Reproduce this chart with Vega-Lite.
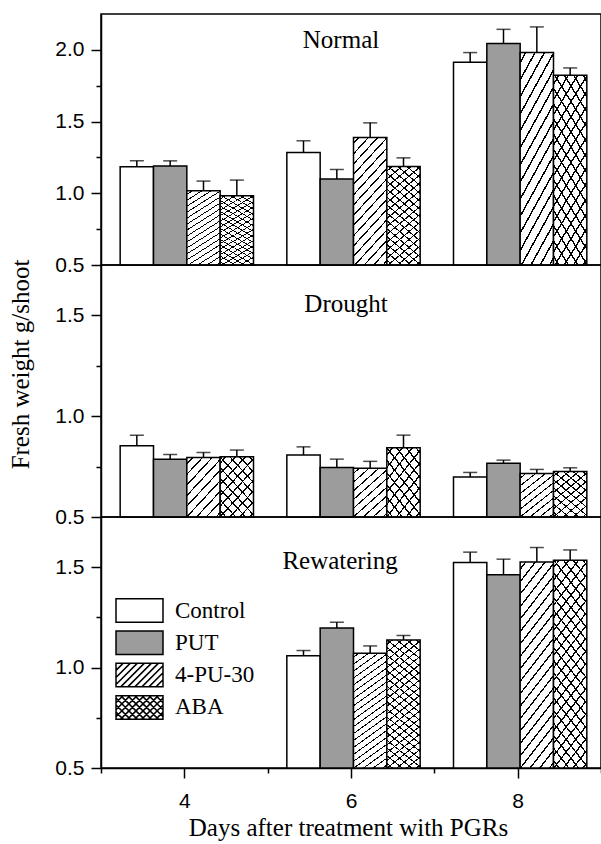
{
"$schema": "https://vega.github.io/schema/vega-lite/v6.json",
"padding": {"left": 7, "top": 13, "right": 0, "bottom": 0},
"background": "white",
"bounds": "flush",
"spacing": 0,
"config": {
  "view": {"stroke": "black", "strokeWidth": 1.5},
  "axis": {"grid": false, "domainColor": "black", "domainWidth": 1.5, "tickColor": "black", "tickWidth": 1.5, "labelColor": "black", "labelFont": "Liberation Sans", "labelFontSize": 21, "labelOverlap": false, "titleColor": "black", "titleFont": "Liberation Serif", "titleFontSize": 25, "titleFontWeight": "normal"},
  "title": {"font": "Liberation Serif", "fontSize": 25, "fontWeight": "normal", "color": "black", "anchor": "middle", "frame": "group", "baseline": "alphabetic"}
},
"datasets": {
  "normal": [
    {"day": 4, "trt": "Control", "value": 1.185, "hi": 1.226},
    {"day": 4, "trt": "PUT", "value": 1.19, "hi": 1.226},
    {"day": 4, "trt": "4-PU-30", "value": 1.017, "hi": 1.085},
    {"day": 4, "trt": "ABA", "value": 0.983, "hi": 1.092},
    {"day": 6, "trt": "Control", "value": 1.285, "hi": 1.366},
    {"day": 6, "trt": "PUT", "value": 1.099, "hi": 1.166},
    {"day": 6, "trt": "4-PU-30", "value": 1.389, "hi": 1.491},
    {"day": 6, "trt": "ABA", "value": 1.187, "hi": 1.247},
    {"day": 8, "trt": "Control", "value": 1.914, "hi": 1.981},
    {"day": 8, "trt": "PUT", "value": 2.044, "hi": 2.143},
    {"day": 8, "trt": "4-PU-30", "value": 1.981, "hi": 2.16},
    {"day": 8, "trt": "ABA", "value": 1.823, "hi": 1.874}
  ],
  "drought": [
    {"day": 4, "trt": "Control", "value": 0.853, "hi": 0.906},
    {"day": 4, "trt": "PUT", "value": 0.786, "hi": 0.81},
    {"day": 4, "trt": "4-PU-30", "value": 0.795, "hi": 0.82},
    {"day": 4, "trt": "ABA", "value": 0.799, "hi": 0.832},
    {"day": 6, "trt": "Control", "value": 0.808, "hi": 0.848},
    {"day": 6, "trt": "PUT", "value": 0.746, "hi": 0.787},
    {"day": 6, "trt": "4-PU-30", "value": 0.742, "hi": 0.776},
    {"day": 6, "trt": "ABA", "value": 0.843, "hi": 0.906},
    {"day": 8, "trt": "Control", "value": 0.699, "hi": 0.721},
    {"day": 8, "trt": "PUT", "value": 0.766, "hi": 0.782},
    {"day": 8, "trt": "4-PU-30", "value": 0.716, "hi": 0.736},
    {"day": 8, "trt": "ABA", "value": 0.726, "hi": 0.744}
  ],
  "rewater": [
    {"day": 6, "trt": "Control", "value": 1.059, "hi": 1.085},
    {"day": 6, "trt": "PUT", "value": 1.197, "hi": 1.226},
    {"day": 6, "trt": "4-PU-30", "value": 1.072, "hi": 1.108},
    {"day": 6, "trt": "ABA", "value": 1.138, "hi": 1.16},
    {"day": 8, "trt": "Control", "value": 1.523, "hi": 1.575},
    {"day": 8, "trt": "PUT", "value": 1.463, "hi": 1.54},
    {"day": 8, "trt": "4-PU-30", "value": 1.526, "hi": 1.598},
    {"day": 8, "trt": "ABA", "value": 1.535, "hi": 1.586}
  ]
},
"resolve": {
  "scale": {"x": "independent", "y": "independent", "xOffset": "independent", "fill": "independent", "shape": "independent"},
  "axis": {"x": "independent", "y": "independent"},
  "legend": {"fill": "independent", "shape": "independent"}
},
"vconcat": [
  {
    "width": 500, "height": 251,
    "title": {"text": "Normal", "offset": -39, "dx": -10},
    "data": {"name": "normal"},
    "encoding": {
      "x": {"field": "day", "type": "ordinal", "scale": {"domain": [4, 6, 8], "range": [2.5, 502.5], "paddingInner": 0.2, "paddingOuter": 0.1}, "axis": null},
      "xOffset": {"field": "trt", "type": "nominal", "scale": {"domain": ["Control", "PUT", "4-PU-30", "ABA"]}},
      "y": {"field": "value", "type": "quantitative", "scale": {"domain": [0.5, 2.25], "nice": false, "zero": false},
        "axis": {"values": [0.5, 0.75, 1, 1.25, 1.5, 1.75, 2], "labelExpr": "datum.value % 0.5 == 0 ? format(datum.value, '.1f') : ''", "tickSize": {"condition": {"test": "datum.value % 0.5 == 0", "value": 10}, "value": 5}, "labelPadding": 7, "title": null}}
    },
    "layer": [
      {"mark": {"type": "bar", "stroke": "black", "strokeWidth": 1.5},
       "encoding": {"y2": {"datum": 0.5}, "fill": {"field": "trt", "type": "nominal", "scale": {"domain": ["Control", "PUT", "4-PU-30", "ABA"], "range": ["white", "#9c9c9c", "white", "white"]}, "legend": null}}},
      {"transform": [{"filter": {"field": "trt", "oneOf": ["4-PU-30", "ABA"]}}],
       "mark": {"type": "bar", "strokeWidth": 0, "fill": {"gradient": "linear", "x1": 0, "y1": 0, "x2": 0.3396, "y2": 1.1887, "stops": [
{"offset":0.031,"color":"rgba(0,0,0,0)"},{"offset":0.031,"color":"#000"},{"offset":0.042,"color":"#000"},{"offset":0.042,"color":"rgba(0,0,0,0)"},
{"offset":0.094,"color":"rgba(0,0,0,0)"},{"offset":0.094,"color":"#000"},{"offset":0.105,"color":"#000"},{"offset":0.105,"color":"rgba(0,0,0,0)"},
{"offset":0.156,"color":"rgba(0,0,0,0)"},{"offset":0.156,"color":"#000"},{"offset":0.167,"color":"#000"},{"offset":0.167,"color":"rgba(0,0,0,0)"},
{"offset":0.219,"color":"rgba(0,0,0,0)"},{"offset":0.219,"color":"#000"},{"offset":0.230,"color":"#000"},{"offset":0.230,"color":"rgba(0,0,0,0)"},
{"offset":0.281,"color":"rgba(0,0,0,0)"},{"offset":0.281,"color":"#000"},{"offset":0.292,"color":"#000"},{"offset":0.292,"color":"rgba(0,0,0,0)"},
{"offset":0.344,"color":"rgba(0,0,0,0)"},{"offset":0.344,"color":"#000"},{"offset":0.355,"color":"#000"},{"offset":0.355,"color":"rgba(0,0,0,0)"},
{"offset":0.406,"color":"rgba(0,0,0,0)"},{"offset":0.406,"color":"#000"},{"offset":0.417,"color":"#000"},{"offset":0.417,"color":"rgba(0,0,0,0)"},
{"offset":0.469,"color":"rgba(0,0,0,0)"},{"offset":0.469,"color":"#000"},{"offset":0.480,"color":"#000"},{"offset":0.480,"color":"rgba(0,0,0,0)"},
{"offset":0.531,"color":"rgba(0,0,0,0)"},{"offset":0.531,"color":"#000"},{"offset":0.542,"color":"#000"},{"offset":0.542,"color":"rgba(0,0,0,0)"},
{"offset":0.594,"color":"rgba(0,0,0,0)"},{"offset":0.594,"color":"#000"},{"offset":0.605,"color":"#000"},{"offset":0.605,"color":"rgba(0,0,0,0)"},
{"offset":0.656,"color":"rgba(0,0,0,0)"},{"offset":0.656,"color":"#000"},{"offset":0.667,"color":"#000"},{"offset":0.667,"color":"rgba(0,0,0,0)"},
{"offset":0.719,"color":"rgba(0,0,0,0)"},{"offset":0.719,"color":"#000"},{"offset":0.730,"color":"#000"},{"offset":0.730,"color":"rgba(0,0,0,0)"},
{"offset":0.781,"color":"rgba(0,0,0,0)"},{"offset":0.781,"color":"#000"},{"offset":0.792,"color":"#000"},{"offset":0.792,"color":"rgba(0,0,0,0)"},
{"offset":0.844,"color":"rgba(0,0,0,0)"},{"offset":0.844,"color":"#000"},{"offset":0.855,"color":"#000"},{"offset":0.855,"color":"rgba(0,0,0,0)"},
{"offset":0.906,"color":"rgba(0,0,0,0)"},{"offset":0.906,"color":"#000"},{"offset":0.917,"color":"#000"},{"offset":0.917,"color":"rgba(0,0,0,0)"},
{"offset":0.969,"color":"rgba(0,0,0,0)"},{"offset":0.969,"color":"#000"},{"offset":0.980,"color":"#000"},{"offset":0.980,"color":"rgba(0,0,0,0)"}]}},
       "encoding": {"y2": {"datum": 0.5}}},
      {"transform": [{"filter": {"field": "trt", "equal": "ABA"}}],
       "mark": {"type": "bar", "strokeWidth": 0, "fill": {"gradient": "linear", "x1": 0, "y1": 1, "x2": 0.3396, "y2": -0.1887, "stops": [
{"offset":0.031,"color":"rgba(0,0,0,0)"},{"offset":0.031,"color":"#000"},{"offset":0.042,"color":"#000"},{"offset":0.042,"color":"rgba(0,0,0,0)"},
{"offset":0.094,"color":"rgba(0,0,0,0)"},{"offset":0.094,"color":"#000"},{"offset":0.105,"color":"#000"},{"offset":0.105,"color":"rgba(0,0,0,0)"},
{"offset":0.156,"color":"rgba(0,0,0,0)"},{"offset":0.156,"color":"#000"},{"offset":0.167,"color":"#000"},{"offset":0.167,"color":"rgba(0,0,0,0)"},
{"offset":0.219,"color":"rgba(0,0,0,0)"},{"offset":0.219,"color":"#000"},{"offset":0.230,"color":"#000"},{"offset":0.230,"color":"rgba(0,0,0,0)"},
{"offset":0.281,"color":"rgba(0,0,0,0)"},{"offset":0.281,"color":"#000"},{"offset":0.292,"color":"#000"},{"offset":0.292,"color":"rgba(0,0,0,0)"},
{"offset":0.344,"color":"rgba(0,0,0,0)"},{"offset":0.344,"color":"#000"},{"offset":0.355,"color":"#000"},{"offset":0.355,"color":"rgba(0,0,0,0)"},
{"offset":0.406,"color":"rgba(0,0,0,0)"},{"offset":0.406,"color":"#000"},{"offset":0.417,"color":"#000"},{"offset":0.417,"color":"rgba(0,0,0,0)"},
{"offset":0.469,"color":"rgba(0,0,0,0)"},{"offset":0.469,"color":"#000"},{"offset":0.480,"color":"#000"},{"offset":0.480,"color":"rgba(0,0,0,0)"},
{"offset":0.531,"color":"rgba(0,0,0,0)"},{"offset":0.531,"color":"#000"},{"offset":0.542,"color":"#000"},{"offset":0.542,"color":"rgba(0,0,0,0)"},
{"offset":0.594,"color":"rgba(0,0,0,0)"},{"offset":0.594,"color":"#000"},{"offset":0.605,"color":"#000"},{"offset":0.605,"color":"rgba(0,0,0,0)"},
{"offset":0.656,"color":"rgba(0,0,0,0)"},{"offset":0.656,"color":"#000"},{"offset":0.667,"color":"#000"},{"offset":0.667,"color":"rgba(0,0,0,0)"},
{"offset":0.719,"color":"rgba(0,0,0,0)"},{"offset":0.719,"color":"#000"},{"offset":0.730,"color":"#000"},{"offset":0.730,"color":"rgba(0,0,0,0)"},
{"offset":0.781,"color":"rgba(0,0,0,0)"},{"offset":0.781,"color":"#000"},{"offset":0.792,"color":"#000"},{"offset":0.792,"color":"rgba(0,0,0,0)"},
{"offset":0.844,"color":"rgba(0,0,0,0)"},{"offset":0.844,"color":"#000"},{"offset":0.855,"color":"#000"},{"offset":0.855,"color":"rgba(0,0,0,0)"},
{"offset":0.906,"color":"rgba(0,0,0,0)"},{"offset":0.906,"color":"#000"},{"offset":0.917,"color":"#000"},{"offset":0.917,"color":"rgba(0,0,0,0)"},
{"offset":0.969,"color":"rgba(0,0,0,0)"},{"offset":0.969,"color":"#000"},{"offset":0.980,"color":"#000"},{"offset":0.980,"color":"rgba(0,0,0,0)"}]}},
       "encoding": {"y2": {"datum": 0.5}}},
      {"mark": {"type": "rule", "color": "black", "strokeWidth": 1.5}, "encoding": {"y2": {"field": "hi"}}},
      {"mark": {"type": "tick", "color": "black", "thickness": 1.5, "size": 14, "orient": "horizontal"},
       "encoding": {"y": {"field": "hi", "type": "quantitative", "scale": {"domain": [0.5, 2.25], "nice": false, "zero": false},
         "axis": {"values": [0.5, 0.75, 1, 1.25, 1.5, 1.75, 2], "labelExpr": "datum.value % 0.5 == 0 ? format(datum.value, '.1f') : ''", "tickSize": {"condition": {"test": "datum.value % 0.5 == 0", "value": 10}, "value": 5}, "labelPadding": 7, "title": null}}}}
    ]
  },
  {
    "width": 500, "height": 252,
    "title": {"text": "Drought", "offset": -58, "dx": -5},
    "data": {"name": "drought"},
    "encoding": {
      "x": {"field": "day", "type": "ordinal", "scale": {"domain": [4, 6, 8], "range": [2.5, 502.5], "paddingInner": 0.2, "paddingOuter": 0.1}, "axis": null},
      "xOffset": {"field": "trt", "type": "nominal", "scale": {"domain": ["Control", "PUT", "4-PU-30", "ABA"]}},
      "y": {"field": "value", "type": "quantitative", "scale": {"domain": [0.5, 1.75], "nice": false, "zero": false},
        "axis": {"values": [0.5, 0.75, 1, 1.25, 1.5], "labelExpr": "datum.value % 0.5 == 0 ? format(datum.value, '.1f') : ''", "tickSize": {"condition": {"test": "datum.value % 0.5 == 0", "value": 10}, "value": 5}, "labelPadding": 7,
          "title": "Fresh weight g/shoot", "titleX": -73, "titleY": 99, "titleAngle": 270, "titleAlign": "center", "titleBaseline": "alphabetic"}}
    },
    "layer": [
      {"mark": {"type": "bar", "stroke": "black", "strokeWidth": 1.5},
       "encoding": {"y2": {"datum": 0.5}, "fill": {"field": "trt", "type": "nominal", "scale": {"domain": ["Control", "PUT", "4-PU-30", "ABA"], "range": ["white", "#9c9c9c", "white", "white"]}, "legend": null}}},
      {"transform": [{"filter": {"field": "trt", "oneOf": ["4-PU-30", "ABA"]}}],
       "mark": {"type": "bar", "strokeWidth": 0, "fill": {"gradient": "linear", "x1": 0, "y1": 0, "x2": 0.7119, "y2": 1.1746, "stops": [
{"offset":0.056,"color":"rgba(0,0,0,0)"},{"offset":0.056,"color":"#000"},{"offset":0.075,"color":"#000"},{"offset":0.075,"color":"rgba(0,0,0,0)"},
{"offset":0.167,"color":"rgba(0,0,0,0)"},{"offset":0.167,"color":"#000"},{"offset":0.186,"color":"#000"},{"offset":0.186,"color":"rgba(0,0,0,0)"},
{"offset":0.278,"color":"rgba(0,0,0,0)"},{"offset":0.278,"color":"#000"},{"offset":0.297,"color":"#000"},{"offset":0.297,"color":"rgba(0,0,0,0)"},
{"offset":0.389,"color":"rgba(0,0,0,0)"},{"offset":0.389,"color":"#000"},{"offset":0.408,"color":"#000"},{"offset":0.408,"color":"rgba(0,0,0,0)"},
{"offset":0.500,"color":"rgba(0,0,0,0)"},{"offset":0.500,"color":"#000"},{"offset":0.519,"color":"#000"},{"offset":0.519,"color":"rgba(0,0,0,0)"},
{"offset":0.611,"color":"rgba(0,0,0,0)"},{"offset":0.611,"color":"#000"},{"offset":0.630,"color":"#000"},{"offset":0.630,"color":"rgba(0,0,0,0)"},
{"offset":0.722,"color":"rgba(0,0,0,0)"},{"offset":0.722,"color":"#000"},{"offset":0.741,"color":"#000"},{"offset":0.741,"color":"rgba(0,0,0,0)"},
{"offset":0.833,"color":"rgba(0,0,0,0)"},{"offset":0.833,"color":"#000"},{"offset":0.852,"color":"#000"},{"offset":0.852,"color":"rgba(0,0,0,0)"},
{"offset":0.944,"color":"rgba(0,0,0,0)"},{"offset":0.944,"color":"#000"},{"offset":0.963,"color":"#000"},{"offset":0.963,"color":"rgba(0,0,0,0)"}]}},
       "encoding": {"y2": {"datum": 0.5}}},
      {"transform": [{"filter": {"field": "trt", "equal": "ABA"}}],
       "mark": {"type": "bar", "strokeWidth": 0, "fill": {"gradient": "linear", "x1": 0, "y1": 1, "x2": 0.7119, "y2": -0.1746, "stops": [
{"offset":0.056,"color":"rgba(0,0,0,0)"},{"offset":0.056,"color":"#000"},{"offset":0.075,"color":"#000"},{"offset":0.075,"color":"rgba(0,0,0,0)"},
{"offset":0.167,"color":"rgba(0,0,0,0)"},{"offset":0.167,"color":"#000"},{"offset":0.186,"color":"#000"},{"offset":0.186,"color":"rgba(0,0,0,0)"},
{"offset":0.278,"color":"rgba(0,0,0,0)"},{"offset":0.278,"color":"#000"},{"offset":0.297,"color":"#000"},{"offset":0.297,"color":"rgba(0,0,0,0)"},
{"offset":0.389,"color":"rgba(0,0,0,0)"},{"offset":0.389,"color":"#000"},{"offset":0.408,"color":"#000"},{"offset":0.408,"color":"rgba(0,0,0,0)"},
{"offset":0.500,"color":"rgba(0,0,0,0)"},{"offset":0.500,"color":"#000"},{"offset":0.519,"color":"#000"},{"offset":0.519,"color":"rgba(0,0,0,0)"},
{"offset":0.611,"color":"rgba(0,0,0,0)"},{"offset":0.611,"color":"#000"},{"offset":0.630,"color":"#000"},{"offset":0.630,"color":"rgba(0,0,0,0)"},
{"offset":0.722,"color":"rgba(0,0,0,0)"},{"offset":0.722,"color":"#000"},{"offset":0.741,"color":"#000"},{"offset":0.741,"color":"rgba(0,0,0,0)"},
{"offset":0.833,"color":"rgba(0,0,0,0)"},{"offset":0.833,"color":"#000"},{"offset":0.852,"color":"#000"},{"offset":0.852,"color":"rgba(0,0,0,0)"},
{"offset":0.944,"color":"rgba(0,0,0,0)"},{"offset":0.944,"color":"#000"},{"offset":0.963,"color":"#000"},{"offset":0.963,"color":"rgba(0,0,0,0)"}]}},
       "encoding": {"y2": {"datum": 0.5}}},
      {"mark": {"type": "rule", "color": "black", "strokeWidth": 1.5}, "encoding": {"y2": {"field": "hi"}}},
      {"mark": {"type": "tick", "color": "black", "thickness": 1.5, "size": 14, "orient": "horizontal"},
       "encoding": {"y": {"field": "hi", "type": "quantitative", "scale": {"domain": [0.5, 1.75], "nice": false, "zero": false},
         "axis": {"values": [0.5, 0.75, 1, 1.25, 1.5], "labelExpr": "datum.value % 0.5 == 0 ? format(datum.value, '.1f') : ''", "tickSize": {"condition": {"test": "datum.value % 0.5 == 0", "value": 10}, "value": 5}, "labelPadding": 7,
          "title": "Fresh weight g/shoot", "titleX": -73, "titleY": 99, "titleAngle": 270, "titleAlign": "center", "titleBaseline": "alphabetic"}}}}
    ]
  },
  {
    "width": 500, "height": 251,
    "title": {"text": "Rewatering", "offset": -57, "dx": -11},
    "data": {"name": "rewater"},
    "resolve": {"scale": {"x": "independent"}, "axis": {"x": "independent"}},
    "layer": [
      {
        "encoding": {
          "x": {"field": "day", "type": "ordinal", "scale": {"domain": [4, 6, 8], "range": [2.5, 502.5], "paddingInner": 0.2, "paddingOuter": 0.1}, "axis": null},
          "xOffset": {"field": "trt", "type": "nominal", "scale": {"domain": ["Control", "PUT", "4-PU-30", "ABA"]}},
          "y": {"field": "value", "type": "quantitative", "scale": {"domain": [0.5, 1.75], "nice": false, "zero": false},
            "axis": {"values": [0.5, 0.75, 1, 1.25, 1.5], "labelExpr": "datum.value % 0.5 == 0 ? format(datum.value, '.1f') : ''", "tickSize": {"condition": {"test": "datum.value % 0.5 == 0", "value": 10}, "value": 5}, "labelPadding": 7, "title": null}}
        },
        "layer": [
          {"mark": {"type": "bar", "stroke": "black", "strokeWidth": 1.5},
           "encoding": {"y2": {"datum": 0.5}, "fill": {"field": "trt", "type": "nominal", "scale": {"domain": ["Control", "PUT", "4-PU-30", "ABA"], "range": ["white", "#9c9c9c", "white", "white"]},
             "legend": {"orient": "none", "legendX": 26, "legendY": 81, "title": null, "padding": 0, "symbolSize": 552, "symbolStrokeColor": "black", "symbolStrokeWidth": 1.5, "symbolOpacity": 1,
               "labelFont": "Liberation Serif", "labelFontSize": 23, "labelColor": "black", "labelOffset": 23, "rowPadding": 1.3}}}},
          {"transform": [{"filter": {"field": "trt", "oneOf": ["4-PU-30", "ABA"]}}],
           "mark": {"type": "bar", "strokeWidth": 0, "fill": {"gradient": "linear", "x1": 0, "y1": 0, "x2": 0.2413, "y2": 1.158, "stops": [
{"offset":0.025,"color":"rgba(0,0,0,0)"},{"offset":0.025,"color":"#000"},{"offset":0.0335,"color":"#000"},{"offset":0.0335,"color":"rgba(0,0,0,0)"},
{"offset":0.075,"color":"rgba(0,0,0,0)"},{"offset":0.075,"color":"#000"},{"offset":0.0835,"color":"#000"},{"offset":0.0835,"color":"rgba(0,0,0,0)"},
{"offset":0.125,"color":"rgba(0,0,0,0)"},{"offset":0.125,"color":"#000"},{"offset":0.1335,"color":"#000"},{"offset":0.1335,"color":"rgba(0,0,0,0)"},
{"offset":0.175,"color":"rgba(0,0,0,0)"},{"offset":0.175,"color":"#000"},{"offset":0.1835,"color":"#000"},{"offset":0.1835,"color":"rgba(0,0,0,0)"},
{"offset":0.225,"color":"rgba(0,0,0,0)"},{"offset":0.225,"color":"#000"},{"offset":0.2335,"color":"#000"},{"offset":0.2335,"color":"rgba(0,0,0,0)"},
{"offset":0.275,"color":"rgba(0,0,0,0)"},{"offset":0.275,"color":"#000"},{"offset":0.2835,"color":"#000"},{"offset":0.2835,"color":"rgba(0,0,0,0)"},
{"offset":0.325,"color":"rgba(0,0,0,0)"},{"offset":0.325,"color":"#000"},{"offset":0.3335,"color":"#000"},{"offset":0.3335,"color":"rgba(0,0,0,0)"},
{"offset":0.375,"color":"rgba(0,0,0,0)"},{"offset":0.375,"color":"#000"},{"offset":0.3835,"color":"#000"},{"offset":0.3835,"color":"rgba(0,0,0,0)"},
{"offset":0.425,"color":"rgba(0,0,0,0)"},{"offset":0.425,"color":"#000"},{"offset":0.4335,"color":"#000"},{"offset":0.4335,"color":"rgba(0,0,0,0)"},
{"offset":0.475,"color":"rgba(0,0,0,0)"},{"offset":0.475,"color":"#000"},{"offset":0.4835,"color":"#000"},{"offset":0.4835,"color":"rgba(0,0,0,0)"},
{"offset":0.525,"color":"rgba(0,0,0,0)"},{"offset":0.525,"color":"#000"},{"offset":0.5335,"color":"#000"},{"offset":0.5335,"color":"rgba(0,0,0,0)"},
{"offset":0.575,"color":"rgba(0,0,0,0)"},{"offset":0.575,"color":"#000"},{"offset":0.5835,"color":"#000"},{"offset":0.5835,"color":"rgba(0,0,0,0)"},
{"offset":0.625,"color":"rgba(0,0,0,0)"},{"offset":0.625,"color":"#000"},{"offset":0.6335,"color":"#000"},{"offset":0.6335,"color":"rgba(0,0,0,0)"},
{"offset":0.675,"color":"rgba(0,0,0,0)"},{"offset":0.675,"color":"#000"},{"offset":0.6835,"color":"#000"},{"offset":0.6835,"color":"rgba(0,0,0,0)"},
{"offset":0.725,"color":"rgba(0,0,0,0)"},{"offset":0.725,"color":"#000"},{"offset":0.7335,"color":"#000"},{"offset":0.7335,"color":"rgba(0,0,0,0)"},
{"offset":0.775,"color":"rgba(0,0,0,0)"},{"offset":0.775,"color":"#000"},{"offset":0.7835,"color":"#000"},{"offset":0.7835,"color":"rgba(0,0,0,0)"},
{"offset":0.825,"color":"rgba(0,0,0,0)"},{"offset":0.825,"color":"#000"},{"offset":0.8335,"color":"#000"},{"offset":0.8335,"color":"rgba(0,0,0,0)"},
{"offset":0.875,"color":"rgba(0,0,0,0)"},{"offset":0.875,"color":"#000"},{"offset":0.8835,"color":"#000"},{"offset":0.8835,"color":"rgba(0,0,0,0)"},
{"offset":0.925,"color":"rgba(0,0,0,0)"},{"offset":0.925,"color":"#000"},{"offset":0.9335,"color":"#000"},{"offset":0.9335,"color":"rgba(0,0,0,0)"},
{"offset":0.975,"color":"rgba(0,0,0,0)"},{"offset":0.975,"color":"#000"},{"offset":0.9835,"color":"#000"},{"offset":0.9835,"color":"rgba(0,0,0,0)"}]}},
           "encoding": {"y2": {"datum": 0.5}}},
          {"transform": [{"filter": {"field": "trt", "equal": "ABA"}}],
           "mark": {"type": "bar", "strokeWidth": 0, "fill": {"gradient": "linear", "x1": 0, "y1": 1, "x2": 0.2413, "y2": -0.158, "stops": [
{"offset":0.025,"color":"rgba(0,0,0,0)"},{"offset":0.025,"color":"#000"},{"offset":0.0335,"color":"#000"},{"offset":0.0335,"color":"rgba(0,0,0,0)"},
{"offset":0.075,"color":"rgba(0,0,0,0)"},{"offset":0.075,"color":"#000"},{"offset":0.0835,"color":"#000"},{"offset":0.0835,"color":"rgba(0,0,0,0)"},
{"offset":0.125,"color":"rgba(0,0,0,0)"},{"offset":0.125,"color":"#000"},{"offset":0.1335,"color":"#000"},{"offset":0.1335,"color":"rgba(0,0,0,0)"},
{"offset":0.175,"color":"rgba(0,0,0,0)"},{"offset":0.175,"color":"#000"},{"offset":0.1835,"color":"#000"},{"offset":0.1835,"color":"rgba(0,0,0,0)"},
{"offset":0.225,"color":"rgba(0,0,0,0)"},{"offset":0.225,"color":"#000"},{"offset":0.2335,"color":"#000"},{"offset":0.2335,"color":"rgba(0,0,0,0)"},
{"offset":0.275,"color":"rgba(0,0,0,0)"},{"offset":0.275,"color":"#000"},{"offset":0.2835,"color":"#000"},{"offset":0.2835,"color":"rgba(0,0,0,0)"},
{"offset":0.325,"color":"rgba(0,0,0,0)"},{"offset":0.325,"color":"#000"},{"offset":0.3335,"color":"#000"},{"offset":0.3335,"color":"rgba(0,0,0,0)"},
{"offset":0.375,"color":"rgba(0,0,0,0)"},{"offset":0.375,"color":"#000"},{"offset":0.3835,"color":"#000"},{"offset":0.3835,"color":"rgba(0,0,0,0)"},
{"offset":0.425,"color":"rgba(0,0,0,0)"},{"offset":0.425,"color":"#000"},{"offset":0.4335,"color":"#000"},{"offset":0.4335,"color":"rgba(0,0,0,0)"},
{"offset":0.475,"color":"rgba(0,0,0,0)"},{"offset":0.475,"color":"#000"},{"offset":0.4835,"color":"#000"},{"offset":0.4835,"color":"rgba(0,0,0,0)"},
{"offset":0.525,"color":"rgba(0,0,0,0)"},{"offset":0.525,"color":"#000"},{"offset":0.5335,"color":"#000"},{"offset":0.5335,"color":"rgba(0,0,0,0)"},
{"offset":0.575,"color":"rgba(0,0,0,0)"},{"offset":0.575,"color":"#000"},{"offset":0.5835,"color":"#000"},{"offset":0.5835,"color":"rgba(0,0,0,0)"},
{"offset":0.625,"color":"rgba(0,0,0,0)"},{"offset":0.625,"color":"#000"},{"offset":0.6335,"color":"#000"},{"offset":0.6335,"color":"rgba(0,0,0,0)"},
{"offset":0.675,"color":"rgba(0,0,0,0)"},{"offset":0.675,"color":"#000"},{"offset":0.6835,"color":"#000"},{"offset":0.6835,"color":"rgba(0,0,0,0)"},
{"offset":0.725,"color":"rgba(0,0,0,0)"},{"offset":0.725,"color":"#000"},{"offset":0.7335,"color":"#000"},{"offset":0.7335,"color":"rgba(0,0,0,0)"},
{"offset":0.775,"color":"rgba(0,0,0,0)"},{"offset":0.775,"color":"#000"},{"offset":0.7835,"color":"#000"},{"offset":0.7835,"color":"rgba(0,0,0,0)"},
{"offset":0.825,"color":"rgba(0,0,0,0)"},{"offset":0.825,"color":"#000"},{"offset":0.8335,"color":"#000"},{"offset":0.8335,"color":"rgba(0,0,0,0)"},
{"offset":0.875,"color":"rgba(0,0,0,0)"},{"offset":0.875,"color":"#000"},{"offset":0.8835,"color":"#000"},{"offset":0.8835,"color":"rgba(0,0,0,0)"},
{"offset":0.925,"color":"rgba(0,0,0,0)"},{"offset":0.925,"color":"#000"},{"offset":0.9335,"color":"#000"},{"offset":0.9335,"color":"rgba(0,0,0,0)"},
{"offset":0.975,"color":"rgba(0,0,0,0)"},{"offset":0.975,"color":"#000"},{"offset":0.9835,"color":"#000"},{"offset":0.9835,"color":"rgba(0,0,0,0)"}]}},
           "encoding": {"y2": {"datum": 0.5}}},
          {"mark": {"type": "rule", "color": "black", "strokeWidth": 1.5}, "encoding": {"y2": {"field": "hi"}}},
          {"mark": {"type": "tick", "color": "black", "thickness": 1.5, "size": 14, "orient": "horizontal"},
           "encoding": {"y": {"field": "hi", "type": "quantitative", "scale": {"domain": [0.5, 1.75], "nice": false, "zero": false},
             "axis": {"values": [0.5, 0.75, 1, 1.25, 1.5], "labelExpr": "datum.value % 0.5 == 0 ? format(datum.value, '.1f') : ''", "tickSize": {"condition": {"test": "datum.value % 0.5 == 0", "value": 10}, "value": 5}, "labelPadding": 7, "title": null}}}}
        ]
      },
      {
        "mark": {"type": "point", "size": 0},
        "encoding": {
          "x": {"field": "day", "type": "quantitative", "scale": {"domain": [3, 9], "nice": false, "zero": false},
            "axis": {"values": [3, 4, 5, 6, 7, 8, 9], "labelExpr": "datum.value % 2 == 0 ? datum.label : ''", "tickSize": {"condition": {"test": "datum.value % 2 == 0", "value": 10}, "value": 5}, "labelPadding": 12, "labelFlush": false,
              "title": "Days after treatment with PGRs", "titleX": 247, "titleY": 67, "titleAlign": "center", "titleBaseline": "alphabetic", "titleAngle": 0}},
          "shape": {"field": "trt", "type": "nominal",
            "scale": {"domain": ["Control", "PUT", "4-PU-30", "ABA"], "range": [
              "M-2,-1H2V1H-2Z",
              "M-2,-1H2V1H-2Z",
              "M-2,-1H2V1H-2Z M-2,-0.4L-1.4,-1 M-2,0.2L-0.8,-1 M-2,0.8L-0.2,-1 M-1.6,1L0.4,-1 M-1,1L1,-1 M-0.4,1L1.6,-1 M0.2,1L2,-0.8 M0.8,1L2,-0.2 M1.4,1L2,0.4",
              "M-2,-1H2V1H-2Z M-2,-0.4L-1.4,-1 M-2,0.2L-0.8,-1 M-2,0.8L-0.2,-1 M-1.6,1L0.4,-1 M-1,1L1,-1 M-0.4,1L1.6,-1 M0.2,1L2,-0.8 M0.8,1L2,-0.2 M1.4,1L2,0.4 M-2,0.4L-1.4,1 M-2,-0.2L-0.8,1 M-2,-0.8L-0.2,1 M-1.6,-1L0.4,1 M-1,-1L1,1 M-0.4,-1L1.6,1 M0.2,-1L2,0.8 M0.8,-1L2,0.2 M1.4,-1L2,-0.4"]},
            "legend": {"orient": "none", "legendX": 26, "legendY": 81, "title": null, "padding": 0, "symbolSize": 552, "symbolStrokeColor": "black", "symbolStrokeWidth": 1.5, "symbolOpacity": 1,
              "labelFont": "Liberation Serif", "labelFontSize": 23, "labelColor": "black", "labelOffset": 23, "rowPadding": 1.3}}
        }
      }
    ]
  }
]
}
